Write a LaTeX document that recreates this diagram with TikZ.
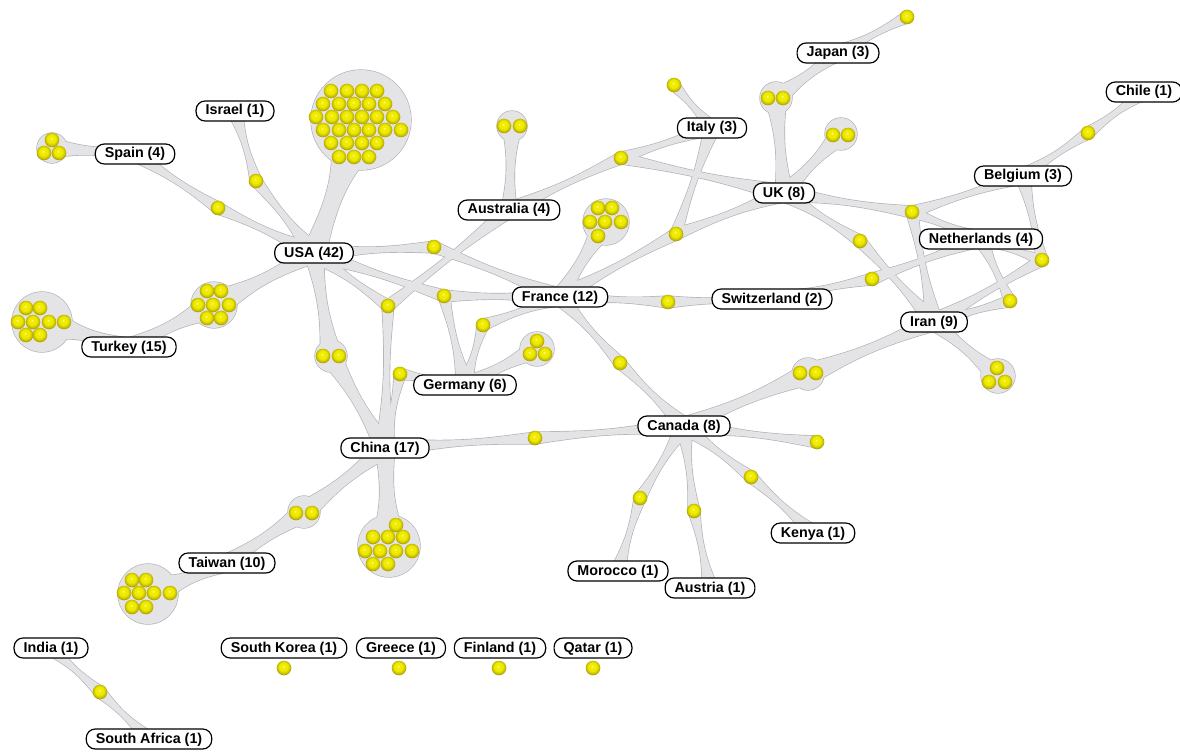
\documentclass[tikz,border=0pt]{standalone}
\usepackage{fontspec}
\setmainfont{Liberation Sans}
\usetikzlibrary{calc}
\pgfdeclarelayer{edgeout}
\pgfdeclarelayer{edgein}
\pgfsetlayers{edgeout,edgein,main}
\definecolor{edgefill}{RGB}{228,228,231}
\definecolor{edgeline}{RGB}{176,176,182}
\definecolor{ballhi}{RGB}{255,255,200}
\definecolor{ballmid}{RGB}{240,236,0}
\definecolor{ballrim}{RGB}{195,185,0}
\definecolor{balledge}{RGB}{115,108,0}
\pgfdeclareradialshading{yball}{\pgfpoint{-3bp}{6bp}}{%
  color(0bp)=(ballhi); color(4bp)=(ballmid); color(14bp)=(ballmid);
  color(23bp)=(ballrim); color(31bp)=(balledge); color(50bp)=(balledge)}
\newcommand\tedge[5][1.4pt]{\path[tshape] ($(#2)!#4!90:(#3)$) .. controls ($(#2)!0.4!(#3)!#1!90:(#3)$) and ($(#2)!0.6!(#3)!#1!90:(#3)$) .. ($(#3)!#5!-90:(#2)$) -- ($(#3)!#5!90:(#2)$) .. controls ($(#2)!0.6!(#3)!#1!-90:(#3)$) and ($(#2)!0.4!(#3)!#1!-90:(#3)$) .. ($(#2)!#4!-90:(#3)$) -- cycle;}
\newcommand\allblobs{%
\path[tshape] (cUSA) circle[radius=50pt];
\path[tshape] (cSp) circle[radius=15pt];
\path[tshape] (cTU) circle[radius=23pt];
\path[tshape] (cTk) circle[radius=30pt];
\path[tshape] (cUC) circle[radius=16pt];
\path[tshape] (cGe) circle[radius=17pt];
\path[tshape] (cFr) circle[radius=23pt];
\path[tshape] (cAu) circle[radius=15pt];
\path[tshape] (cJU) circle[radius=16pt];
\path[tshape] (cUK) circle[radius=16pt];
\path[tshape] (cIr) circle[radius=17pt];
\path[tshape] (cCI) circle[radius=16pt];
\path[tshape] (cCh) circle[radius=31pt];
\path[tshape] (cCT) circle[radius=16pt];
\path[tshape] (cTw) circle[radius=30pt];
}
\newcommand\alledges{%
\tedge{japan}{bJ}{8pt}{6pt}
\tedge[2.5pt]{japan}{cJU}{8pt}{11pt}
\tedge[3pt]{uk}{cJU}{9pt}{11pt}
\tedge[2.5pt]{uk}{cUK}{9pt}{11pt}
\tedge[2.5pt]{australia}{cAu}{8pt}{10pt}
\tedge{australia}{bAIU}{8pt}{6pt}
\tedge{australia}{bUAC}{8pt}{6pt}
\tedge{italy}{bAIU}{8pt}{6pt}
\tedge{italy}{bIt}{8pt}{6pt}
\tedge{italy}{bFIU}{8pt}{6pt}
\tedge{uk}{bAIU}{9pt}{6pt}
\tedge{uk}{bFIU}{9pt}{6pt}
\tedge{uk}{bUBNI}{9pt}{6pt}
\tedge{uk}{bUI}{9pt}{6pt}
\tedge{france}{bFIU}{9pt}{6pt}
\tedge{france}{bUF}{9pt}{6pt}
\tedge{france}{bUFG}{9pt}{6pt}
\tedge{france}{bFG}{9pt}{6pt}
\tedge{france}{bFS}{9pt}{6pt}
\tedge{france}{bFC}{9pt}{6pt}
\tedge[3pt]{france}{cFr}{9pt}{14pt}
\tedge{chile}{bCh}{8pt}{6pt}
\tedge{belgium}{bCh}{8pt}{6pt}
\tedge{belgium}{bUBNI}{8pt}{6pt}
\tedge{belgium}{bBNI}{8pt}{6pt}
\tedge{neth}{bUBNI}{8pt}{6pt}
\tedge{neth}{bSN}{8pt}{6pt}
\tedge{neth}{bBNI}{8pt}{6pt}
\tedge{neth}{bNI}{8pt}{6pt}
\tedge{iran}{bUBNI}{9pt}{6pt}
\tedge{iran}{bUI}{9pt}{6pt}
\tedge{iran}{bBNI}{9pt}{6pt}
\tedge{iran}{bNI}{9pt}{6pt}
\tedge[2.5pt]{iran}{cIr}{9pt}{11pt}
\tedge[2.5pt]{iran}{cCI}{9pt}{11pt}
\tedge{swiss}{bSN}{8pt}{6pt}
\tedge{swiss}{bFS}{8pt}{6pt}
\tedge[2.5pt]{canada}{cCI}{9pt}{11pt}
\tedge{canada}{bFC}{9pt}{6pt}
\tedge{canada}{bCC}{9pt}{6pt}
\tedge{canada}{bCa}{9pt}{6pt}
\tedge{canada}{bMo}{9pt}{6pt}
\tedge{canada}{bAu}{9pt}{6pt}
\tedge{canada}{bKe}{9pt}{6pt}
\tedge[5pt]{usa}{cUSA}{12pt}{34pt}
\tedge{usa}{bIs}{10pt}{6pt}
\tedge{usa}{bSp}{10pt}{6pt}
\tedge[3pt]{usa}{cTU}{10pt}{15pt}
\tedge[3pt]{usa}{cUC}{10pt}{11pt}
\tedge{usa}{bUF}{10pt}{6pt}
\tedge{usa}{bUFG}{10pt}{6pt}
\tedge{usa}{bUAC}{10pt}{6pt}
\tedge{israel}{bIs}{8pt}{6pt}
\tedge{spain}{bSp}{8pt}{6pt}
\tedge[2.5pt]{spain}{cSp}{8pt}{10pt}
\tedge[3pt]{turkey}{cTU}{9pt}{15pt}
\tedge[3.5pt]{turkey}{cTk}{9pt}{20pt}
\tedge{germany}{bUFG}{9pt}{6pt}
\tedge{germany}{bFG}{9pt}{6pt}
\tedge[2.5pt]{germany}{cGe}{9pt}{11pt}
\tedge{germany}{bCG}{9pt}{6pt}
\tedge{china}{bUAC}{10pt}{6pt}
\tedge[3pt]{china}{cUC}{10pt}{11pt}
\tedge{china}{bCG}{10pt}{6pt}
\tedge{china}{bCC}{10pt}{6pt}
\tedge[5pt]{china}{cCh}{10pt}{20pt}
\tedge[3pt]{china}{cCT}{10pt}{11pt}
\tedge[3pt]{taiwan}{cCT}{9pt}{11pt}
\tedge[3.5pt]{taiwan}{cTw}{9pt}{20pt}
\tedge{morocco}{bMo}{8pt}{6pt}
\tedge{austria}{bAu}{8pt}{6pt}
\tedge{kenya}{bKe}{8pt}{6pt}
\tedge{india}{bIS}{8pt}{6pt}
\tedge{safrica}{bIS}{8pt}{6pt}
}
\tikzset{
  lbl/.style={draw=black, line width=1.2pt, fill=white, rounded corners=9pt,
    minimum height=20pt, inner xsep=9.5pt, inner ysep=0pt, text height=10.5pt, text depth=2.5pt,
    font=\bfseries\fontsize{14.3}{16}\selectfont},
  ball/.style={circle, inner sep=0pt, minimum size=14.6pt, shading=yball},
}
\begin{document}
\begin{tikzpicture}[x=1pt,y=-1pt]
\useasboundingbox (0,0) rectangle (1180,754);
% country labels
\node[lbl] (japan) at (838,53) {Japan (3)};
\node[lbl] (chile) at (1144,92) {Chile (1)};
\node[lbl] (israel) at (235,111) {Israel (1)};
\node[lbl] (spain) at (135,154) {Spain (4)};
\node[lbl] (italy) at (712,128) {Italy (3)};
\node[lbl] (uk) at (784,193) {UK (8)};
\node[lbl] (belgium) at (1023,176) {Belgium (3)};
\node[lbl] (neth) at (981,239) {Netherlands (4)};
\node[lbl] (australia) at (509,210) {Australia (4)};
\node[lbl] (usa) at (314,253) {USA (42)};
\node[lbl] (france) at (560,297) {France (12)};
\node[lbl] (swiss) at (772,299) {Switzerland (2)};
\node[lbl] (iran) at (934,322) {Iran (9)};
\node[lbl] (turkey) at (129,347) {Turkey (15)};
\node[lbl] (germany) at (465,385) {Germany (6)};
\node[lbl] (china) at (385,448) {China (17)};
\node[lbl] (canada) at (684,426) {Canada (8)};
\node[lbl] (kenya) at (813,533) {Kenya (1)};
\node[lbl] (taiwan) at (227,563) {Taiwan (10)};
\node[lbl] (morocco) at (618,571) {Morocco (1)};
\node[lbl] (austria) at (710,588) {Austria (1)};
\node[lbl] (india) at (51,648) {India (1)};
\node[lbl] (safrica) at (149,739) {South Africa (1)};
\node[lbl] (skorea) at (284,648) {South Korea (1)};
\node[lbl] (greece) at (401,648) {Greece (1)};
\node[lbl] (finland) at (500,648) {Finland (1)};
\node[lbl] (qatar) at (593,648) {Qatar (1)};
% single balls
\node[ball] (bJ) at (907,17) {};
\node[ball] (bIt) at (674,85) {};
\node[ball] (bAIU) at (621,158) {};
\node[ball] (bFIU) at (676,234) {};
\node[ball] (bCh) at (1088,133) {};
\node[ball] (bUBNI) at (912,212) {};
\node[ball] (bUI) at (860,241) {};
\node[ball] (bSN) at (872,279) {};
\node[ball] (bBNI) at (1042,260) {};
\node[ball] (bNI) at (1010,301) {};
\node[ball] (bUF) at (434,247) {};
\node[ball] (bUFG) at (444,296) {};
\node[ball] (bUAC) at (388,306) {};
\node[ball] (bFG) at (483,325) {};
\node[ball] (bFS) at (668,302) {};
\node[ball] (bFC) at (620,363) {};
\node[ball] (bCG) at (400,374) {};
\node[ball] (bCC) at (535,438) {};
\node[ball] (bCa) at (817,442) {};
\node[ball] (bMo) at (640,498) {};
\node[ball] (bAu) at (694,511) {};
\node[ball] (bKe) at (751,477) {};
\node[ball] (bIs) at (256,181) {};
\node[ball] (bSp) at (218,208) {};
\node[ball] (bIS) at (100,692) {};
\node[ball] (iso1) at (284,668) {};
\node[ball] (iso2) at (399,668) {};
\node[ball] (iso3) at (499,668) {};
\node[ball] (iso4) at (593,668) {};
% cluster centres
\coordinate (cUSA) at (361,120);
\coordinate (cSp) at (52,148);
\coordinate (cTU) at (214,305);
\coordinate (cTk) at (42,322);
\coordinate (cUC) at (331,356);
\coordinate (cGe) at (537,349);
\coordinate (cFr) at (606,222);
\coordinate (cAu) at (512,126);
\coordinate (cJU) at (776,98);
\coordinate (cUK) at (841,134);
\coordinate (cIr) at (998,376);
\coordinate (cCI) at (808,374);
\coordinate (cCh) at (389,546);
\coordinate (cCT) at (304,512);
\coordinate (cTw) at (148,594);
% cluster balls
\foreach \x/\y [count=\i] in {331/91,347/91,362/91,377/91,
  323/104,339/104,354/104,369/104,385/104,
  316/117,332/117,347/117,362/117,377/117,393/117,
  323/130,339/130,354/130,369/130,385/130,401/130,
  331/143,347/143,362/143,377/143,
  339/157,354/157,369/157}
  \node[ball] (kusa\i) at (\x,\y) {};
\foreach \x/\y [count=\i] in {52/140,44/153,59/153}
  \node[ball] (ksp\i) at (\x,\y) {};
\foreach \x/\y [count=\i] in {207/291,221/291,198/305,213/305,229/305,207/318,221/318}
  \node[ball] (ktu\i) at (\x,\y) {};
\foreach \x/\y [count=\i] in {26/308,40/308,18/322,33/322,49/322,64/322,26/335,40/335}
  \node[ball] (ktk\i) at (\x,\y) {};
\foreach \x/\y [count=\i] in {323/356,339/356}
  \node[ball] (kuc\i) at (\x,\y) {};
\foreach \x/\y [count=\i] in {537/341,530/354,545/354}
  \node[ball] (kge\i) at (\x,\y) {};
\foreach \x/\y [count=\i] in {598/208,612/208,590/222,605/222,621/222,598/236}
  \node[ball] (kfr\i) at (\x,\y) {};
\foreach \x/\y [count=\i] in {504/126,520/126}
  \node[ball] (kau\i) at (\x,\y) {};
\foreach \x/\y [count=\i] in {768/98,783/98}
  \node[ball] (kju\i) at (\x,\y) {};
\foreach \x/\y [count=\i] in {833/135,848/135}
  \node[ball] (kuk\i) at (\x,\y) {};
\foreach \x/\y [count=\i] in {997/368,989/382,1005/382}
  \node[ball] (kir\i) at (\x,\y) {};
\foreach \x/\y [count=\i] in {800/373,816/373}
  \node[ball] (kci\i) at (\x,\y) {};
\foreach \x/\y [count=\i] in {396/525,373/537,388/537,403/537,365/551,380/551,396/551,412/551,373/564,388/564}
  \node[ball] (kch\i) at (\x,\y) {};
\foreach \x/\y [count=\i] in {296/513,312/513}
  \node[ball] (kct\i) at (\x,\y) {};
\foreach \x/\y [count=\i] in {132/580,146/580,124/593,139/593,154/593,170/593,132/607,146/607}
  \node[ball] (ktw\i) at (\x,\y) {};
% connector bundles
\begin{pgfonlayer}{edgeout}
\tikzset{tshape/.style={draw=edgeline, fill=edgeline, line width=1.3pt, line join=round}}
\allblobs
\alledges
\end{pgfonlayer}
\begin{pgfonlayer}{edgein}
\tikzset{tshape/.style={fill=edgefill}}
\allblobs
\alledges
\end{pgfonlayer}
\end{tikzpicture}
\end{document}
